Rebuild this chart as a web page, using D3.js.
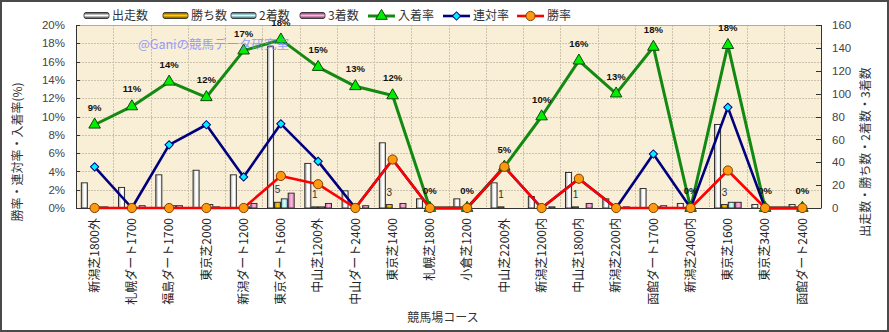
<!DOCTYPE html>
<html><head><meta charset="utf-8">
<script src="https://cdn.jsdelivr.net/npm/d3@7"></script>
<style>body{margin:0;background:#fff}svg{display:block}</style>
</head><body><svg id="c" width="889" height="332"></svg>
<script>
// ---- data ----
const categories = ["新潟芝1800外","札幌ダート1700","福島ダート1700","東京芝2000","新潟ダート1200","東京ダート1600","中山芝1200外","中山ダート2400","東京芝1400","札幌芝1800","小倉芝1200","中山芝2200外","新潟芝1200内","中山芝1800内","新潟芝2200内","函館ダート1700","新潟芝2400内","東京芝1600","東京芝3400","函館ダート2400"];
const starts  = [22,18,29,33,29,141,39,15,57,8,8,22,10,31,8,17,4,73,3,3];
const wins    = [0,0,0,0,0,5,1,0,3,0,0,1,0,1,0,0,0,3,0,0];
const seconds = [1,0,2,3,1,8,1,0,0,0,0,0,0,0,0,1,0,5,0,0];
const thirds  = [1,2,2,1,4,13,4,2,4,0,0,0,1,4,1,2,0,5,0,0];
const winRate    = [0,0,0,0,0,3.5,2.6,0,5.3,0,0,4.5,0,3.2,0,0,0,4.1,0,0];
const rentaiRate = [4.5,0,6.9,9.1,3.4,9.2,5.1,0,5.3,0,0,4.5,0,3.2,0,5.9,0,11.0,0,0];
const placeRate  = [9.1,11.1,13.8,12.1,17.2,18.4,15.4,13.3,12.3,0,0,4.5,10.0,16.1,12.5,17.6,0,17.8,0,0];
const leftTicks  = [0,2,4,6,8,10,12,14,16,18,20];
const rightTicks = [0,20,40,60,80,100,120,140,160];
const barNames  = ["出走数","勝ち数","2着数","3着数"];
const lineNames = ["入着率","連対率","勝率"];

// ---- layout ----
const P = {l:76, r:821, t:25, b:208};
const svg = d3.select("#c");
const JP = "'Noto Sans CJK JP','Noto Sans',sans-serif";
const LAT = "'Liberation Sans',Arial,sans-serif";

const x = d3.scaleBand().domain(categories).range([P.l, P.r]);
const bw = x.bandwidth();
const sub = d3.scaleBand().domain([0,1,2,3]).range([5.3, bw-5.3]).paddingInner(0.12);
const yL = d3.scaleLinear().domain([0,20]).range([P.b, P.t]);
const yR = d3.scaleLinear().domain([0,160]).range([P.b, P.t]);
const cx = c => x(c) + bw/2;

svg.append("rect").attr("width",889).attr("height",332).attr("fill","#fff");

// gradients
const defs = svg.append("defs");
function grad(id, stops, vertical){
  const g = defs.append("linearGradient").attr("id",id)
    .attr("x1",0).attr("y1",0).attr("x2",vertical?0:1).attr("y2",vertical?1:0);
  stops.forEach(s=>g.append("stop").attr("offset",s[0]).attr("stop-color",s[1]));
}
const barStops = [
  [[0,"#9a9a9a"],[0.45,"#ffffff"],[0.7,"#ffffff"],[1,"#c8c8c8"]],
  [[0,"#b08000"],[0.5,"#ffcc00"],[1,"#c89400"]],
  [[0,"#80c8d0"],[0.5,"#d8ffff"],[1,"#98d8e0"]],
  [[0,"#c86aa0"],[0.5,"#ffb8e0"],[1,"#d880b0"]]
];
const legStops = [
  [[0,"#333"],[0.5,"#fff"],[1,"#333"]],
  [[0,"#6a4a00"],[0.5,"#ffcc00"],[1,"#6a4a00"]],
  [[0,"#305a60"],[0.5,"#c8ffff"],[1,"#305a60"]],
  [[0,"#603050"],[0.5,"#ffb0e0"],[1,"#603050"]]
];
barStops.forEach((s,i)=>grad("gb"+i,s,false));
legStops.forEach((s,i)=>grad("gl"+i,s,true));

// plot background
svg.append("rect").attr("x",P.l).attr("y",P.t).attr("width",P.r-P.l).attr("height",P.b-P.t)
  .attr("fill","#f9eed6");

// grid
const grid = svg.append("g").attr("stroke","#cdc2ad").attr("stroke-width",1).attr("stroke-dasharray","2,1");
leftTicks.slice(1,-1).forEach(t=>grid.append("line").attr("x1",P.l).attr("x2",P.r)
  .attr("y1",Math.round(yL(t))+0.5).attr("y2",Math.round(yL(t))+0.5));
categories.slice(1).forEach(c=>grid.append("line").attr("y1",P.t).attr("y2",P.b)
  .attr("x1",Math.round(x(c))+0.5).attr("x2",Math.round(x(c))+0.5));

// bars
const series = [starts, wins, seconds, thirds];
series.forEach((arr,si)=>{
  svg.append("g").selectAll("rect").data(categories.map((c,i)=>({c, v:arr[i]})).filter(d=>d.v>0))
    .join("rect")
    .attr("x",d=>x(d.c)+sub(si)).attr("width",sub.bandwidth())
    .attr("y",d=>yR(d.v)).attr("height",d=>P.b-yR(d.v))
    .attr("fill","url(#gb"+si+")").attr("stroke","#222").attr("stroke-width",0.9);
});
// win count labels
svg.append("g").selectAll("text").data(categories.map((c,i)=>({c,v:wins[i]})).filter(d=>d.v>0))
  .join("text").attr("x",d=>x(d.c)+sub(1)+sub.bandwidth()/2).attr("y",d=>yR(d.v)-9)
  .attr("text-anchor","middle").attr("font-family",LAT).attr("font-size",10).attr("fill","#333")
  .text(d=>d.v);

// axes frame
svg.append("line").attr("x1",P.l).attr("x2",P.r).attr("y1",P.t+0.5).attr("y2",P.t+0.5).attr("stroke","#b3aa98");
const ax = svg.append("g").attr("stroke","#333").attr("stroke-width",1);
ax.append("line").attr("x1",P.l+0.5).attr("x2",P.l+0.5).attr("y1",P.t).attr("y2",P.b+0.5);
ax.append("line").attr("x1",P.r+0.5).attr("x2",P.r+0.5).attr("y1",P.t).attr("y2",P.b+0.5);
leftTicks.forEach(t=>ax.append("line").attr("x1",P.l).attr("x2",P.l+4).attr("y1",Math.round(yL(t))+0.5).attr("y2",Math.round(yL(t))+0.5));
rightTicks.forEach(t=>ax.append("line").attr("x1",P.r-5).attr("x2",P.r).attr("y1",Math.round(yR(t))+0.5).attr("y2",Math.round(yR(t))+0.5));

// lines
const rates = [placeRate, rentaiRate, winRate];
const lineCol = ["#128a12","#00007e","#ff0000"];
const lineW = [3,2.6,2.6];
const line = d3.line().x((d,i)=>cx(categories[i])).y(d=>yL(d));
rates.forEach((r,k)=>{
  svg.append("path").datum(r).attr("d",line).attr("fill","none")
    .attr("stroke",lineCol[k]).attr("stroke-width",lineW[k]).attr("stroke-linejoin","round");
});
ax.append("line").attr("x1",P.l).attr("x2",P.r).attr("y1",P.b+0.5).attr("y2",P.b+0.5);
// markers
function marker(g, k, px, py){
  if(k===0){
    g.append("path").attr("d",d3.symbol(d3.symbolTriangle,58)()).attr("transform",`translate(${px},${py})`)
      .attr("fill","#00ee00").attr("stroke","#0a4a0a").attr("stroke-width",1);
  } else if(k===1){
    g.append("path").attr("d",d3.symbol(d3.symbolSquare,34)()).attr("transform",`translate(${px},${py}) rotate(45)`)
      .attr("fill","#00f0ff").attr("stroke","#00007e").attr("stroke-width",1);
  } else {
    g.append("circle").attr("cx",px).attr("cy",py).attr("r",4.6)
      .attr("fill","#ff9a10").attr("stroke","#7a4000").attr("stroke-width",1);
  }
}
rates.forEach((r,k)=>{
  const g = svg.append("g");
  r.forEach((v,i)=>marker(g,k,cx(categories[i]),yL(v)));
});
// place-rate labels
svg.append("g").selectAll("text").data(placeRate).join("text")
  .attr("x",(d,i)=>cx(categories[i])).attr("y",d=>yL(d)-14)
  .attr("text-anchor","middle").attr("font-family",LAT).attr("font-weight","bold")
  .attr("font-size",9.5).attr("fill","#111").text(d=>Math.round(d)+"%");

// axis labels
svg.append("g").selectAll("text").data(leftTicks).join("text")
  .attr("x",65).attr("y",d=>yL(d)).attr("dy","0.36em").attr("text-anchor","end")
  .attr("font-family",LAT).attr("font-size",11.5).attr("fill","#444").text(d=>d+"%");
svg.append("g").selectAll("text").data(rightTicks).join("text")
  .attr("x",832).attr("y",d=>yR(d)).attr("dy","0.36em").attr("text-anchor","start")
  .attr("font-family",LAT).attr("font-size",11.5).attr("fill","#444").text(d=>d);
svg.append("g").selectAll("text").data(categories).join("text")
  .attr("transform",d=>`translate(${cx(d)},218) rotate(-90)`)
  .attr("text-anchor","end").attr("dy","0.35em")
  .attr("font-family",JP).attr("font-size",12).attr("fill","#222").text(d=>d);

// axis titles
svg.append("text").attr("transform","translate(18,152) rotate(-90)").attr("text-anchor","middle")
  .attr("dy","0.35em").attr("font-family",JP).attr("font-size",12).attr("fill","#333").text("勝率・連対率・入着率(%)");
svg.append("text").attr("transform","translate(866,152) rotate(-90)").attr("text-anchor","middle")
  .attr("dy","0.35em").attr("font-family",JP).attr("font-size",12).attr("fill","#333").text("出走数・勝ち数・2着数・3着数");
svg.append("text").attr("x",443).attr("y",318).attr("dy","0.35em").attr("text-anchor","middle")
  .attr("font-family",JP).attr("font-size",12).attr("fill","#333").text("競馬場コース");

// legend
const legX = [84,163,231,300,368,443,517];
const leg = svg.append("g");
barNames.forEach((n,i)=>{
  leg.append("rect").attr("x",legX[i]).attr("y",12.5).attr("width",25).attr("height",6).attr("rx",2)
    .attr("fill","url(#gl"+i+")").attr("stroke","#222").attr("stroke-width",0.8);
  leg.append("text").attr("x",legX[i]+28).attr("y",16).attr("dy","0.35em").attr("font-family",JP)
    .attr("font-size",12).attr("fill","#333").text(n);
});
lineNames.forEach((n,k)=>{
  const lx = legX[4+k];
  leg.append("line").attr("x1",lx).attr("x2",lx+27).attr("y1",16).attr("y2",16)
    .attr("stroke",lineCol[k]).attr("stroke-width",lineW[k]);
  marker(leg,k,lx+13.5,16);
  leg.append("text").attr("x",lx+30).attr("y",16).attr("dy","0.35em").attr("font-family",JP)
    .attr("font-size",12).attr("fill","#333").text(n);
});

// watermark
svg.append("text").attr("x",138).attr("y",45).attr("dy","0.35em").attr("font-family",JP)
  .attr("font-size",12.5).attr("fill","#7d8cff").attr("opacity",0.8).text("@Ganiの競馬データ研究室");

// outer frame
svg.append("rect").attr("x",1).attr("y",1).attr("width",887).attr("height",330)
  .attr("fill","none").attr("stroke","#4a4a4a").attr("stroke-width",2);
</script></body></html>
